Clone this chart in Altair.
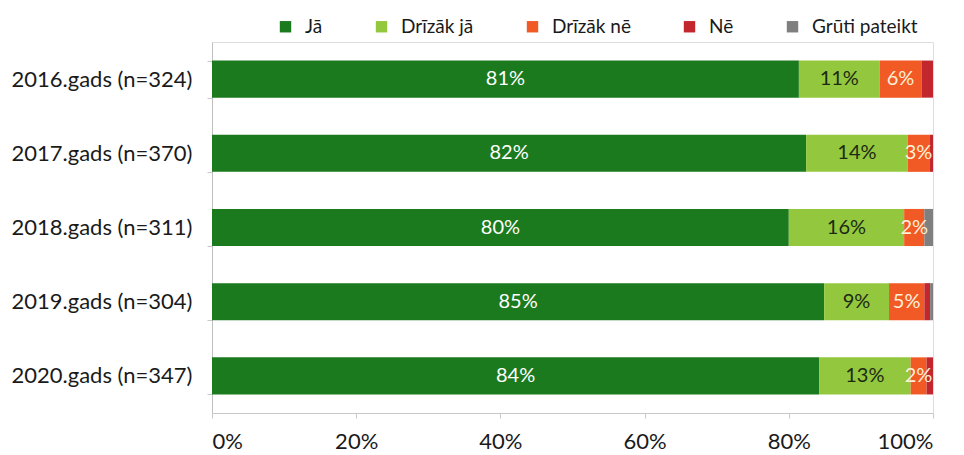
import altair as alt
import pandas as pd

years = ["2016.gads (n=324)", "2017.gads (n=370)", "2018.gads (n=311)",
         "2019.gads (n=304)", "2020.gads (n=347)"]
categories = ["Jā", "Drīzāk jā", "Drīzāk nē", "Nē", "Grūti pateikt"]
colors = ["#1b7a1e", "#93c83e", "#f15a24", "#c1272d", "#7f7f7f"]

ja = [81.4, 82.4, 80.0, 84.9, 84.2]
drizak_ja = [11.2, 14.1, 16.0, 9.0, 12.7]
drizak_ne = [5.8, 3.0, 2.8, 4.9, 2.2]
ne = [1.6, 0.5, 0.0, 0.8, 0.9]
gruti = [0.0, 0.0, 1.2, 0.4, 0.0]

label_ja = ["81%", "82%", "80%", "85%", "84%"]
label_dja = ["11%", "14%", "16%", "9%", "13%"]
label_dne = ["6%", "3%", "2%", "5%", "2%"]
label_colors = ["#ffffff", "#1c2a14", "#fff0d8", "", ""]

series = [ja, drizak_ja, drizak_ne, ne, gruti]
labels = [label_ja, label_dja, label_dne, None, None]

rows = []
for i, y in enumerate(years):
    start = 0.0
    for k, cat in enumerate(categories):
        v = series[k][i]
        end = start + v
        rows.append({
            "year": y, "cat": cat, "order": k,
            "start": start, "end": end, "mid": (start + end) / 2,
            "label": labels[k][i] if labels[k] else "",
            "lc": label_colors[k],
        })
        start = end
df = pd.DataFrame(rows)

FONT = "Lato"

yenc = alt.Y("year:N", sort=years, title=None,
             scale=alt.Scale(paddingInner=0.5, paddingOuter=0.25),
             axis=alt.Axis(labelFont=FONT, labelFontSize=22, labelColor="#1a1a1a",
                           labelPadding=15, labelLimit=300, tickSize=5,
                           tickColor="#c8c8c8", tickBand="extent",
                           domainColor="#bfbfbf",
                           minExtent=199, maxExtent=199))

bars = alt.Chart(df).mark_bar().encode(
    x=alt.X("start:Q", title=None,
            scale=alt.Scale(domain=[0, 100], nice=False),
            axis=alt.Axis(values=[0, 20, 40, 60, 80, 100],
                          labelExpr="datum.value + '%'",
                          labelFont=FONT, labelFontSize=22, labelColor="#1a1a1a",
                          labelPadding=13, tickSize=5, tickColor="#c8c8c8",
                          domainColor="#c8c8c8", grid=False)),
    x2="end:Q",
    y=yenc,
    color=alt.Color("cat:N", sort=categories,
                    scale=alt.Scale(domain=categories, range=colors),
                    legend=alt.Legend(title=None, orient="none", direction="horizontal",
                                      columns=5, legendX=64, legendY=-25,
                                      symbolType="square", symbolSize=130,
                                      symbolStrokeWidth=0,
                                      labelFont=FONT, labelFontSize=19,
                                      labelColor="#1a1a1a", labelOffset=10,
                                      columnPadding=49, padding=0)),
    order="order:Q",
)

text = alt.Chart(df).transform_filter("datum.label != ''").mark_text(
    font=FONT, fontSize=20, align="center", baseline="middle"
).encode(
    x=alt.X("mid:Q"),
    y=alt.Y("year:N", sort=years),
    text="label:N",
    color=alt.Color("lc:N", scale=None),
)

chart = alt.layer(bars, text).properties(
    width=721, height=371,
    padding={"left": 3, "top": 9, "right": 5, "bottom": 2},
).configure_view(stroke=None).configure(background="white")

chart.save("out.html", embed_options={"renderer": "svg", "actions": False})
